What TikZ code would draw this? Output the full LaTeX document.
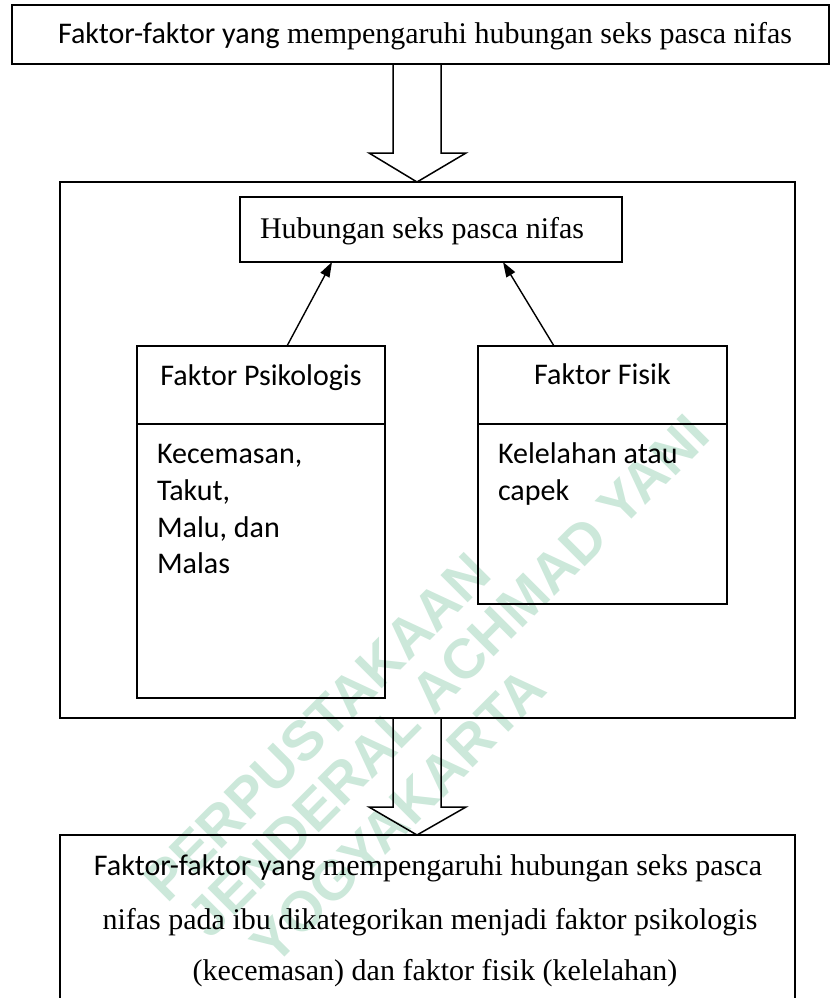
\documentclass[tikz,border=0pt]{standalone}
\usepackage{fontspec}
\setmainfont{Liberation Serif}
\newfontfamily\calfont{Carlito}
\newfontfamily\wmfont{Liberation Sans}
\usetikzlibrary{arrows.meta,calc}
\definecolor{wmgreen}{RGB}{204,232,218}
\begin{document}
\begin{tikzpicture}[x=1pt,y=-1pt,
  box/.style={draw, line width=1.8pt, inner sep=0pt, outer sep=0pt},
  txt/.style={inner sep=0pt, outer sep=0pt, font=\fontsize{30}{36}\selectfont},
  caltxt/.style={inner sep=0pt, outer sep=0pt, font=\fontsize{30}{36}\selectfont\calfont},
  hollow/.style={draw, line width=1.5pt, line join=miter},
  conn/.style={draw, line width=1.4pt, -{Triangle[length=15pt,width=10pt]}},
  wm/.style={inner sep=0pt, text=wmgreen, font=\fontsize{56}{60}\selectfont\wmfont\bfseries, rotate=45}]
\useasboundingbox (0,0) rectangle (830,998);
\clip (0,0) rectangle (830,998);
% watermark
\node[wm] (w1) at (317,727) {PERPUSTAKAAN};
\node[wm] (w2) at (448,676) {JENDERAL ACHMAD YANI};
\node[wm] (w3) at (398,816) {YOGYAKARTA};
% boxes
\node[box, minimum width=817pt, minimum height=59pt] (top) at (420.5,34.5) {};
\node[box, minimum width=735pt, minimum height=536pt] (big) at (427.5,450) {};
\node[box, minimum width=382pt, minimum height=65pt] (hub) at (431,229.5) {};
\node[box, minimum width=248pt, minimum height=352pt] (psi) at (261,522) {};
\node[box, minimum width=249pt, minimum height=258pt] (fis) at (602.5,475) {};
\node[box, minimum width=735pt, minimum height=200pt] (res) at (427.5,935) {};
\draw[line width=1.8pt] ($(psi.north west)+(0,78)$) -- ($(psi.north east)+(0,78)$);
\draw[line width=1.8pt] ($(fis.north west)+(0,78)$) -- ($(fis.north east)+(0,78)$);
% texts
\node[txt, anchor=base] (toptxt) at (425,44) {{\calfont Faktor-faktor yang} mempengaruhi hubungan seks pasca nifas};
\node[txt, anchor=base west] (hubtxt) at (260,238) {Hubungan seks pasca nifas};
\node[caltxt, anchor=base] (psititle) at (261,385) {Faktor Psikologis};
\node[caltxt, anchor=base] (fistitle) at (602.5,384) {Faktor Fisik};
\node[caltxt, anchor=base west] (p1) at (157,463) {Kecemasan,};
\node[caltxt, anchor=base west] (p2) at (157,500) {Takut,};
\node[caltxt, anchor=base west] (p3) at (157,537) {Malu, dan};
\node[caltxt, anchor=base west] (p4) at (157,573) {Malas};
\node[caltxt, anchor=base west] (f1) at (498,463) {Kelelahan atau};
\node[caltxt, anchor=base west] (f2) at (498,500) {capek};
\node[txt, anchor=base] (r1) at (428,875) {{\calfont Faktor-faktor yang} mempengaruhi hubungan seks pasca};
\node[txt, anchor=base] (r2) at (430,929) {nifas pada ibu dikategorikan menjadi faktor psikologis};
\node[txt, anchor=base] (r3) at (435,980) {(kecemasan) dan faktor fisik (kelelahan)};
% connectors
\draw[conn] ($(psi.north west)+(150,0)$) -- ($(hub.south west)+(92,0)$);
\draw[conn] ($(fis.north west)+(76,0)$) -- ($(hub.south west)+(263,0)$);
% hollow arrows
\coordinate (h1s) at ($(top.south)+(-3.5,0)$);
\coordinate (h1t) at ($(big.north)+(-10.5,0)$);
\coordinate (h2s) at ($(big.south)+(-10.5,0)$);
\coordinate (h2t) at ($(res.north)+(-10.5,0)$);
\draw[hollow] ($(h1s)+(-24,0)$) -- ($(h1t)+(-24,-29)$) -- ($(h1t)+(-48,-29)$) -- (h1t) -- ($(h1t)+(49,-29)$) -- ($(h1t)+(24,-29)$) -- ($(h1s)+(24,0)$);
\draw[hollow] ($(h2s)+(-24,0)$) -- ($(h2t)+(-24,-28)$) -- ($(h2t)+(-48,-28)$) -- (h2t) -- ($(h2t)+(49,-28)$) -- ($(h2t)+(24,-28)$) -- ($(h2s)+(24,0)$);
\end{tikzpicture}
\end{document}
